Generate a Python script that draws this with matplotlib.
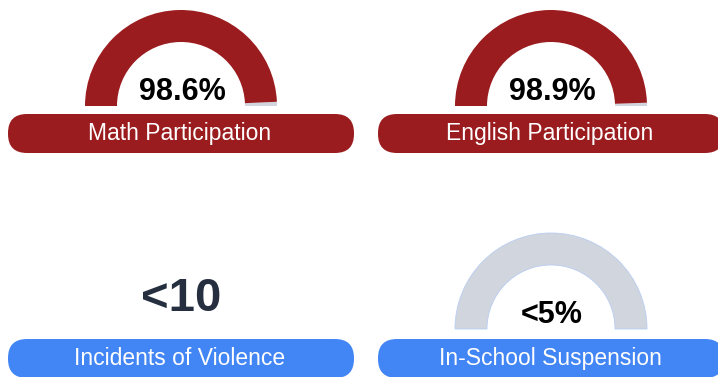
import matplotlib.pyplot as plt
from matplotlib.patches import Wedge, FancyBboxPatch

plt.rcParams['font.family'] = ['Liberation Sans', 'DejaVu Sans']

# one entry per tile: top row first, then bottom row
labels = ['Math Participation', 'English Participation', 'Incidents of Violence', 'In-School Suspension']
display = ['98.6%', '98.9%', '<10', '<5%']
kinds = ['gauge', 'gauge', 'count', 'gauge']
values = [98.6, 98.9, None, None]   # None = suppressed, no fill drawn
pill_colors = ['#9b1c1f', '#9b1c1f', '#4285f4', '#4285f4']

RED = '#9b1c1f'
TRACK = '#d1d5de'
NAVY = '#252f3f'

W, H = 718, 377
fig = plt.figure(figsize=(W / 100, H / 100), dpi=100)
ax = fig.add_axes([0, 0, 1, 1])
ax.set_xlim(0, W)
ax.set_ylim(0, H)
ax.set_aspect('equal')
ax.axis('off')

centers_x = [181, 551, 181, 551]
gauge_base = [271, 271, 48, 48]     # y of gauge's flat edge
pill_bottom = [224, 224, -1, -1]
pill_w, pill_h = 346, 39
r_out, r_in = 96, 64

for i in range(4):
    cx = centers_x[i]
    if kinds[i] == 'gauge':
        cy = gauge_base[i]
        v = values[i]
        if v is None:
            ax.add_patch(Wedge((cx, cy), r_out, 0, 180, width=r_out - r_in,
                               facecolor=TRACK, edgecolor='#b9cdf2', lw=0.6))
        else:
            split = 180 * (1 - v / 100)
            ax.add_patch(Wedge((cx, cy), r_out, 0, split, width=r_out - r_in,
                               facecolor=TRACK, edgecolor='none'))
            ax.add_patch(Wedge((cx, cy), r_out, split, 180, width=r_out - r_in,
                               facecolor=RED, edgecolor='none'))
        ax.text(cx + 1, cy + 6, display[i], ha='center', va='baseline',
                fontsize=22, fontweight='bold', color='black')
    else:
        ax.text(cx, 66, display[i], ha='center', va='baseline',
                fontsize=34, fontweight='bold', color=NAVY)

    pb = pill_bottom[i]
    ax.add_patch(FancyBboxPatch((cx - pill_w / 2, pb), pill_w, pill_h,
                                boxstyle='round,pad=0,rounding_size=19',
                                facecolor=pill_colors[i], edgecolor='none'))
    ax.text(cx - 1, pb + 13, labels[i], ha='center', va='baseline',
            fontsize=16.5, color='white')

fig.savefig('out.png', dpi=100)
